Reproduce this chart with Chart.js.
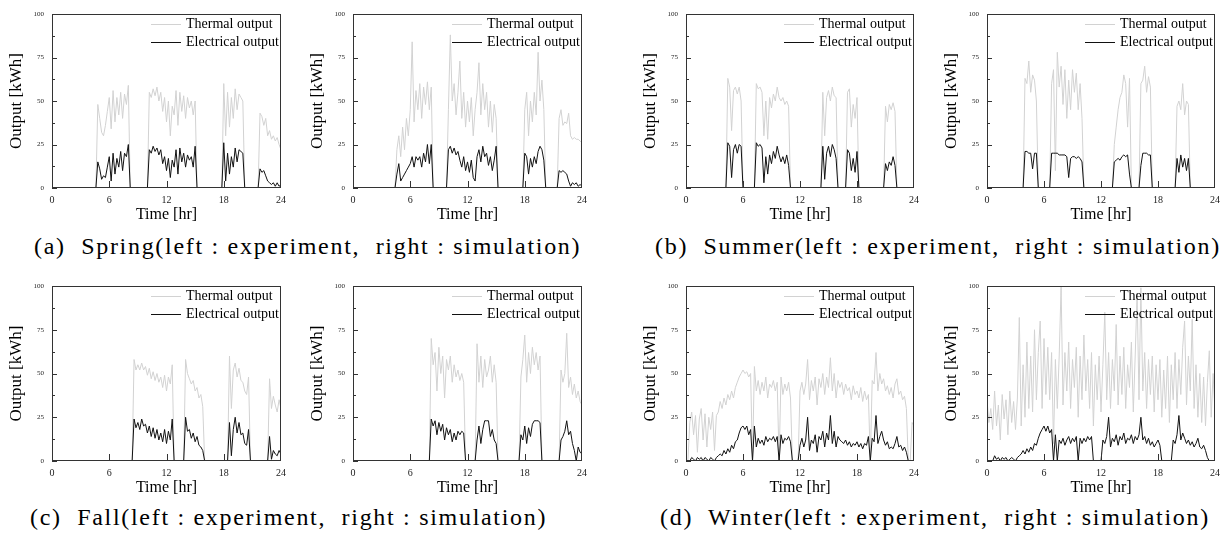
<!DOCTYPE html>
<html><head><meta charset="utf-8">
<script src="https://cdn.jsdelivr.net/npm/chart.js@4.4.1/dist/chart.umd.min.js"></script>
<style>
html,body{margin:0;padding:0;background:#fff;width:1226px;height:535px;overflow:hidden;position:relative}
canvas{position:absolute}
.cap{position:absolute;font-family:"Liberation Serif","DejaVu Serif",serif;font-size:24px;letter-spacing:1.7px;line-height:26px;color:#000;white-space:pre}
</style></head><body>
<div class="cap" style="left:34px;top:233px">(a)  Spring(left : experiment,  right : simulation)</div>
<div class="cap" style="left:655px;top:233px">(b)  Summer(left : experiment,  right : simulation)</div>
<div class="cap" style="left:30px;top:504px">(c)  Fall(left : experiment,  right : simulation)</div>
<div class="cap" style="left:660px;top:504px">(d)  Winter(left : experiment,  right : simulation)</div>
<script>
// time axis: 0.0 .. 24.0 hr, sampled every 0.2 hr (121 samples)
const hours = Array.from({length: 121}, (_, i) => Math.round(i * 2) / 10);
const xTickValues = [0, 6, 12, 18, 24];
const yTickValues = [0, 25, 50, 75, 100];
const legendLabels = ['Thermal output', 'Electrical output'];

const springExpThermal = [
0,0,0,0,0,0,0,0,0,0,
0,0,0,0,0,0,0,0,0,0,
0,0,0,0,48,40,32,30,36,44,
52,34,56,38,52,42,55,40,54,48,
59,0,0,0,0,0,0,0,0,0,
0,55,52,57,53,58,50,55,44,52,
38,50,30,47,42,56,36,55,44,53,
40,52,46,50,42,50,0,0,0,0,
0,0,0,0,0,0,0,0,0,0,
60,30,55,35,52,40,57,45,54,52,
50,0,0,0,0,0,0,0,0,43,
41,36,40,30,33,28,30,27,29,25,
22];
const springExpElectric = [
0,0,0,0,0,0,0,0,0,0,
0,0,0,0,0,0,0,0,0,0,
0,0,0,0,15,11,5,7,6,12,
18,4,20,8,17,12,21,10,20,18,
25,0,0,0,0,0,0,0,0,0,
0,22,20,24,21,23,19,22,14,18,
10,17,6,16,12,22,8,23,15,20,
12,19,16,18,12,24,0,0,0,0,
0,0,0,0,0,0,0,0,0,0,
26,4,20,8,18,12,23,15,22,21,
20,0,0,0,0,0,0,0,0,11,
9,10,7,4,3,2,3,1,3,1,
2];
const springSimThermal = [
0,0,0,0,0,0,0,0,0,0,
0,0,0,0,0,0,0,0,0,0,
0,0,0,22,30,18,35,22,40,30,
45,84,38,56,45,60,40,58,48,61,
45,58,0,0,0,0,0,0,0,0,
45,88,50,60,42,55,73,40,55,35,
50,38,52,30,45,55,72,42,60,45,
55,35,50,32,48,40,0,0,0,0,
0,0,0,0,0,0,0,0,0,0,
45,55,30,50,38,55,42,78,50,62,
45,0,0,0,0,0,0,0,40,45,
36,38,37,43,30,28,29,28,28,27,
26];
const springSimElectric = [
0,0,0,0,0,0,0,0,0,0,
0,0,0,0,0,0,0,0,0,0,
0,0,0,8,14,4,6,8,10,12,
14,18,12,18,16,18,12,20,15,25,
14,25,0,0,0,0,0,0,0,0,
22,24,20,23,19,21,16,12,18,10,
15,9,16,6,4,18,22,15,24,18,
20,13,18,10,16,24,0,0,0,0,
0,0,0,0,0,0,0,0,0,0,
20,18,8,17,12,18,14,21,24,22,
16,0,0,0,0,0,0,0,10,9,
10,9,8,4,1,3,2,3,1,2,
1];
const summerExpThermal = [
0,0,0,0,0,0,0,0,0,0,
0,0,0,0,0,0,0,0,0,0,
0,0,63,58,33,56,58,54,58,50,
0,0,0,0,0,0,0,60,57,58,
55,30,50,28,52,46,54,50,58,52,
50,52,48,50,47,0,0,0,0,0,
0,0,0,0,0,0,0,0,0,0,
0,0,55,30,52,56,50,58,53,52,
0,0,0,0,0,55,57,35,48,40,
52,0,0,0,0,0,0,0,0,0,
0,0,0,0,0,47,38,48,45,49,
44,0,0,0,0,0,0,0,0,0,
0];
const summerExpElectric = [
0,0,0,0,0,0,0,0,0,0,
0,0,0,0,0,0,0,0,0,0,
0,0,26,24,6,22,25,20,25,24,
0,0,0,0,0,0,0,26,24,25,
23,3,18,8,19,14,21,17,24,19,
15,18,14,19,13,0,0,0,0,0,
0,0,0,0,0,0,0,0,0,0,
0,0,24,5,20,24,18,25,22,17,
0,0,0,0,0,22,20,10,17,9,
21,0,0,0,0,0,0,0,0,0,
0,0,0,0,0,14,10,15,13,18,
13,0,0,0,0,0,0,0,0,0,
0];
const summerSimThermal = [
0,0,0,0,0,0,0,0,0,0,
0,0,0,0,0,0,0,0,0,0,
63,60,73,55,65,62,50,0,0,0,
0,0,0,0,60,68,10,78,58,70,
48,68,40,62,45,68,55,66,45,60,
40,0,0,0,0,0,0,0,0,0,
0,0,0,0,0,0,0,25,35,45,
52,55,65,60,35,63,0,0,0,0,
0,60,62,70,55,64,58,0,0,0,
0,0,0,0,0,0,0,0,0,0,
47,50,45,60,42,50,48,0,0,0,
0,0,0,0,0,0,0,0,0,0,
0];
const summerSimElectric = [
0,0,0,0,0,0,0,0,0,0,
0,0,0,0,0,0,0,0,0,0,
21,21,20,20,11,20,20,0,0,0,
0,0,0,0,20,20,20,20,19,19,
19,19,18,6,17,18,18,17,18,17,
15,0,0,0,0,0,0,0,0,0,
0,0,0,0,0,0,0,15,16,17,
16,18,19,18,19,8,0,0,0,0,
0,13,20,20,20,19,19,0,0,0,
0,0,0,0,0,0,0,0,0,0,
17,9,19,12,17,10,17,0,0,0,
0,0,0,0,0,0,0,0,0,0,
0];
const fallExpThermal = [
0,0,0,0,0,0,0,0,0,0,
0,0,0,0,0,0,0,0,0,0,
0,0,0,0,0,0,0,0,0,0,
0,0,0,0,0,0,0,0,0,0,
0,0,0,58,52,55,52,56,52,54,
49,53,47,51,46,50,45,48,42,49,
40,48,44,55,0,0,0,0,0,0,
58,50,47,44,46,40,42,36,38,31,
0,0,0,0,0,0,0,0,0,0,
0,0,0,60,30,52,56,48,53,46,
45,40,38,48,0,0,0,0,0,0,
0,0,0,0,47,30,37,32,28,35,
30];
const fallExpElectric = [
0,0,0,0,0,0,0,0,0,0,
0,0,0,0,0,0,0,0,0,0,
0,0,0,0,0,0,0,0,0,0,
0,0,0,0,0,0,0,0,0,0,
0,0,0,24,19,22,18,24,20,21,
16,20,14,19,13,18,12,16,11,18,
10,17,12,24,0,0,0,0,0,0,
25,17,18,13,16,11,14,9,8,6,
0,0,0,0,0,0,0,0,0,0,
0,0,0,22,3,18,25,16,22,15,
16,10,9,18,0,0,0,0,0,0,
0,0,0,0,14,1,6,4,3,6,
4];
const fallSimThermal = [
0,0,0,0,0,0,0,0,0,0,
0,0,0,0,0,0,0,0,0,0,
0,0,0,0,0,0,0,0,0,0,
0,0,0,0,0,0,0,0,0,0,
0,70,55,62,40,65,50,60,36,58,
52,60,45,55,48,52,46,50,45,0,
0,0,0,0,0,67,45,60,42,58,
48,52,60,45,55,45,0,0,0,0,
0,0,0,0,0,0,0,0,48,58,
72,45,62,50,65,55,62,52,60,0,
0,0,0,0,0,0,0,0,0,52,
45,50,73,42,48,38,44,36,40,34,
32];
const fallSimElectric = [
0,0,0,0,0,0,0,0,0,0,
0,0,0,0,0,0,0,0,0,0,
0,0,0,0,0,0,0,0,0,0,
0,0,0,0,0,0,0,0,0,0,
0,24,20,23,15,22,17,21,12,19,
15,18,11,16,12,17,15,17,16,0,
0,0,0,0,0,12,20,10,18,23,
23,23,14,18,12,10,0,0,0,0,
0,0,0,0,0,0,0,0,15,12,
20,10,19,14,21,23,23,23,22,0,
0,0,0,0,0,0,0,0,0,12,
14,17,23,15,17,10,6,0,8,5,
4];
const winterExpThermal = [
0,0,22,28,15,26,5,24,30,12,
27,8,25,18,28,6,26,28,34,30,
36,32,38,35,40,36,42,45,48,50,
52,50,51,48,50,0,54,40,46,38,
45,40,48,36,44,42,46,40,45,0,
48,38,44,40,45,36,0,0,0,0,
40,45,38,44,58,35,46,40,48,32,
47,42,50,38,48,42,59,40,50,36,
46,42,45,38,44,40,42,35,43,38,
40,36,42,34,40,35,38,0,46,44,
62,40,50,44,47,40,43,38,42,36,
44,47,38,40,35,37,30,0,0,22,
20];
const winterExpElectric = [
0,0,0,2,1,0,2,1,2,0,
2,1,0,2,1,0,2,3,4,3,
6,4,7,5,9,7,11,12,16,19,
20,18,20,15,18,0,20,8,13,10,
12,9,14,11,13,12,14,11,14,0,
15,10,13,12,14,11,0,0,0,0,
9,13,8,12,25,6,12,10,15,5,
14,12,17,8,16,12,26,10,17,8,
14,12,11,10,12,9,11,8,10,9,
11,8,10,7,10,9,14,0,13,11,
26,10,14,17,12,9,11,7,8,7,
10,14,8,9,6,8,5,0,0,0,
0];
const winterSimThermal = [
35,22,30,18,40,20,32,12,38,24,
35,15,40,22,34,18,36,82,20,55,
25,68,30,60,28,75,35,62,80,30,
70,38,65,35,62,10,58,30,60,100,
32,62,40,68,30,58,42,65,25,60,
35,72,40,58,30,62,20,55,35,60,
28,55,85,35,62,30,58,40,78,32,
60,38,65,30,55,42,68,28,60,96,
35,99,40,62,30,58,38,60,28,55,
35,58,25,52,30,60,22,55,35,62,
30,58,38,65,80,32,60,40,81,30,
55,25,50,22,48,20,45,63,25,50,
28];
const winterSimElectric = [
0,0,0,0,3,1,2,0,2,1,
2,0,1,2,1,0,2,3,4,6,
4,7,5,8,6,10,9,13,16,18,
20,17,20,16,18,0,15,0,12,10,
13,9,12,14,10,13,11,14,0,13,
10,13,11,14,12,14,0,0,0,0,
0,12,10,14,25,8,13,11,15,9,
14,12,16,10,13,12,15,10,14,12,
15,25,12,14,10,13,9,11,8,10,
12,9,0,0,0,0,0,0,12,10,
15,26,12,16,13,10,12,9,11,8,
10,13,8,7,9,6,2,0,0,0,
0];

const SERIF = '"Liberation Serif", "DejaVu Serif", serif';
const THERMAL_COLOR = '#d2d2d2';
const ELEC_COLOR = '#111111';

const panels = [
  {L: 52,  R: 282,  T: 14,  B: 188, th: springExpThermal, el: springExpElectric},
  {L: 353, R: 583,  T: 14,  B: 188, th: springSimThermal, el: springSimElectric},
  {L: 686, R: 915,  T: 14,  B: 188, th: summerExpThermal, el: summerExpElectric},
  {L: 987, R: 1216, T: 14,  B: 188, th: summerSimThermal, el: summerSimElectric},
  {L: 52,  R: 282,  T: 286, B: 461, th: fallExpThermal,   el: fallExpElectric},
  {L: 353, R: 583,  T: 286, B: 461, th: fallSimThermal,   el: fallSimElectric},
  {L: 686, R: 915,  T: 286, B: 461, th: winterExpThermal, el: winterExpElectric},
  {L: 987, R: 1216, T: 286, B: 461, th: winterSimThermal, el: winterSimElectric}
];

const framePlugin = {
  id: 'frame',
  afterDraw(chart) {
    const {ctx, chartArea: a, scales: {x, y}} = chart;
    ctx.save();
    ctx.strokeStyle = '#333';
    ctx.lineWidth = 1;
    ctx.strokeRect(a.left + 0.5, a.top + 0.5, a.right - a.left - 1, a.bottom - a.top - 1);
    ctx.beginPath();
    y.ticks.forEach(t => {
      const py = Math.round(y.getPixelForValue(t.value)) + 0.5;
      const len = (t.value % 25 === 0) ? 5 : 3;
      ctx.moveTo(a.left, py); ctx.lineTo(a.left + len, py);
    });
    x.ticks.forEach(t => {
      if (t.value <= 0 || t.value >= 24) return;
      const px = Math.round(x.getPixelForValue(t.value)) + 0.5;
      ctx.moveTo(px, a.bottom); ctx.lineTo(px, a.bottom - 7);
    });
    ctx.stroke();
    // legend (inside, top right)
    const ds = chart.data.datasets;
    const items = [ds.find(d => d.label === legendLabels[0]), ds.find(d => d.label === legendLabels[1])];
    ctx.font = '14px ' + SERIF;
    ctx.textBaseline = 'middle';
    ctx.textAlign = 'left';
    items.forEach((d, k) => {
      const cy = a.top + 10 + k * 18;
      ctx.beginPath();
      ctx.strokeStyle = d.borderColor;
      ctx.lineWidth = 1;
      ctx.moveTo(a.right - 130, Math.round(cy) + 0.5);
      ctx.lineTo(a.right - 100, Math.round(cy) + 0.5);
      ctx.stroke();
      ctx.fillStyle = '#000';
      ctx.fillText(d.label, a.right - 95, cy);
    });
    ctx.restore();
  }
};

panels.forEach(p => {
  if (p.th.length !== hours.length || p.el.length !== hours.length) console.error('length mismatch', p);
  const cv = document.createElement('canvas');
  const W = p.R - p.L + 52 + 10, H = p.B - p.T + 14 + 42;
  cv.width = W; cv.height = H;
  cv.style.width = W + 'px'; cv.style.height = H + 'px';
  cv.style.left = (p.L - 52) + 'px'; cv.style.top = (p.T - 14) + 'px';
  document.body.appendChild(cv);
  new Chart(cv, {
    type: 'line',
    data: {
      datasets: [
        {label: legendLabels[1], data: hours.map((h, i) => ({x: h, y: p.el[i]})),
         borderColor: ELEC_COLOR, borderWidth: 1, pointRadius: 0, tension: 0, order: 0},
        {label: legendLabels[0], data: hours.map((h, i) => ({x: h, y: p.th[i]})),
         borderColor: THERMAL_COLOR, borderWidth: 1, pointRadius: 0, tension: 0, order: 1}
      ]
    },
    options: {
      responsive: false, animation: false, devicePixelRatio: 1,
      layout: {padding: {top: 14, right: 10, left: 0, bottom: 0}},
      plugins: {legend: {display: false}, tooltip: {enabled: false}},
      scales: {
        x: {
          type: 'linear', min: 0, max: 24,
          afterBuildTicks: s => { s.ticks = xTickValues.map(v => ({value: v})); },
          ticks: {padding: 6, font: {family: SERIF, size: 10}, color: '#222', maxRotation: 0, autoSkip: false},
          grid: {display: false, drawTicks: false}, border: {display: false},
          title: {display: true, text: 'Time [hr]', font: {family: SERIF, size: 16}, color: '#000', padding: {top: 0, bottom: 6}},
          afterFit: s => { s.height = 42; }
        },
        y: {
          min: 0, max: 100,
          ticks: {stepSize: 12.5, padding: 8, font: {family: SERIF, size: 7}, color: '#222',
                  callback: v => yTickValues.includes(v) ? String(v) : ''},
          grid: {display: false, drawTicks: false}, border: {display: false},
          title: {display: true, text: 'Output [kWh]', font: {family: SERIF, size: 17}, color: '#000', padding: {top: 6, bottom: 0}},
          afterFit: s => { s.width = 52; }
        }
      }
    },
    plugins: [framePlugin]
  });
});
</script>
</body></html>
